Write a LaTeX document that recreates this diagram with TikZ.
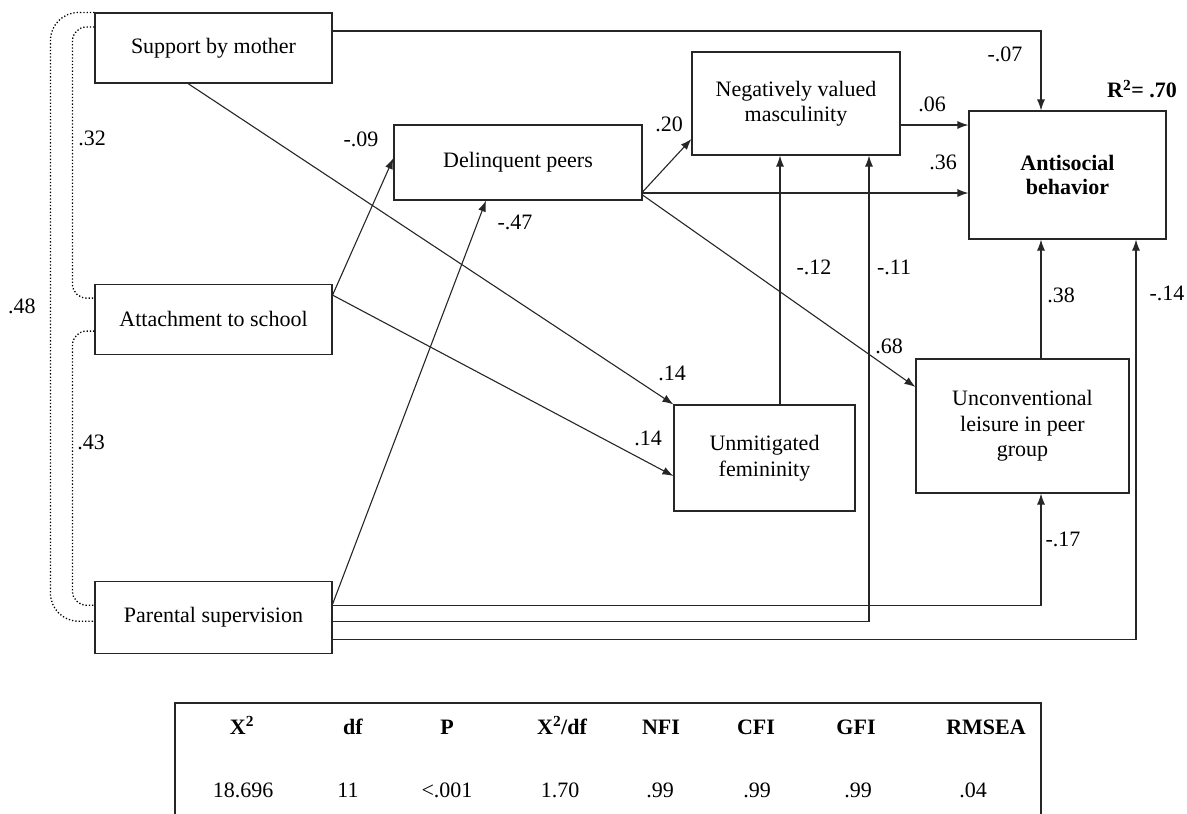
\documentclass[tikz,border=0pt]{standalone}
\usepackage{fontspec}
\setmainfont{Liberation Serif}
\usetikzlibrary{arrows.meta}
\usetikzlibrary{positioning}

\begin{document}
\begin{tikzpicture}[x=1pt,y=-1pt,>={Latex[length=11pt,width=8pt]},line width=1.1pt,
    font=\fontsize{22}{25.5}\selectfont,
    box/.style={draw=black!85,align=center,inner sep=0pt},
    path arrow/.style={->,draw=black!85},
    corr/.style={draw=black,line width=1.3pt,dash pattern=on 1.3pt off 2pt}]

    \useasboundingbox (0,0) rectangle (1187,814);

    % exogenous variables
    \node[box,minimum width=237pt,minimum height=70pt] (sup) at (213.5,48) {Support by mother};
    \node[box,minimum width=237pt,minimum height=70pt] (att) [below=200pt of sup] {Attachment to school};
    \node[box,minimum width=237pt,minimum height=72pt] (par) [below=226pt of att] {Parental supervision};

    % mediators and outcome
    \node[box,minimum width=248pt,minimum height=75pt] (del) at (518,162.5) {Delinquent peers};
    \node[box,minimum width=208pt,minimum height=103pt] (neg) at (796,103.5) {Negatively valued\\masculinity};
    \node[box,minimum width=181pt,minimum height=106pt] (unm) at (764.5,458) {Unmitigated\\femininity};
    \node[box,minimum width=213pt,minimum height=134pt] (unc) at (1022.5,426) {Unconventional\\leisure in peer\\group};
    \node[box,minimum width=197pt,minimum height=128pt,font=\fontsize{22}{24}\selectfont\bfseries] (anti) at (1067.5,175) {Antisocial\\behavior};
    \node[font=\fontsize{22}{24}\selectfont\bfseries] (rsq) at (1142,89) {R\textsuperscript{2}= .70};

    % correlations
    \draw[corr,rounded corners=14pt] ([yshift=21pt]sup.west) -| ([xshift=-22pt,yshift=21pt]att.west) -- ([yshift=21pt]att.west);
    \draw[corr,rounded corners=14pt] ([yshift=-12pt]att.west) -| ([xshift=-22pt,yshift=12pt]par.west) -- ([yshift=12pt]par.west);
    \draw[corr,rounded corners=28pt] (sup.north west) -| ([xshift=-44pt,yshift=-4pt]par.west) -- ([yshift=-4pt]par.west);
    \node (l32) at (92,138) {.32};
    \node (l43) at (91,442) {.43};
    \node (l48) at (22,306) {.48};

    % paths
    \draw[path arrow] ([yshift=17pt]sup.east) -| ([xshift=-26.5pt]anti.north);
    \draw[path arrow] ([xshift=-25.5pt]sup.south) -- (unm.north west);
    \draw[path arrow] ([yshift=24pt]att.east) -- ([yshift=4.5pt]del.west);
    \draw[path arrow] ([yshift=24pt]att.east) -- ([yshift=-18pt]unm.west);
    \draw[path arrow] ([yshift=13pt]par.east) -- ([xshift=-32pt]del.south);
    \draw[path arrow] ([yshift=-29.5pt]del.east) -- ([yshift=-35.5pt]neg.west);
    \draw[path arrow] ([yshift=-30.5pt]del.east) -- ([yshift=-30.5pt]del.east -| anti.west);
    \draw[path arrow] ([yshift=-32.5pt]del.east) -- ([yshift=39pt]unc.west);
    \draw[path arrow] ([yshift=-21.5pt]neg.east) -- ([yshift=-21.5pt]neg.east -| anti.west);
    \draw[path arrow] ([xshift=15.5pt]unm.north) -- ([xshift=15.5pt]unm.north |- neg.south);
    \draw[path arrow] ([xshift=18.5pt]unc.north) -- ([xshift=18.5pt]unc.north |- anti.south);
    \draw[path arrow] ([yshift=-4pt]par.east) -| ([xshift=73pt]neg.south);
    \draw[path arrow] ([yshift=12pt]par.east) -| ([xshift=18.5pt]unc.south);
    \draw[path arrow] ([yshift=-22pt]par.east) -| ([xshift=68.5pt]anti.south);

    % coefficients
    \node (l07) at (1005,54) {-.07};
    \node (l06) at (932,104) {.06};
    \node (l36) at (943,162) {.36};
    \node (l20) at (669,124) {.20};
    \node (l09) at (361,139) {-.09};
    \node (l47) at (515,222) {-.47};
    \node (l12) at (814,267) {-.12};
    \node (l11) at (894,267) {-.11};
    \node (l68) at (889,346) {.68};
    \node (l14a) at (672,373) {.14};
    \node (l14b) at (648,438) {.14};
    \node (l38) at (1061,295) {.38};
    \node (l14c) at (1167,293) {-.14};
    \node (l17) at (1063,539) {-.17};

    % fit indices
    \draw[draw=black!85] (175,814) -- (175,703) -- (1041,703) -- (1041,814);
    \foreach \n/\xh/\xv/\hd/\val in {1/242/243/X\textsuperscript{2}/18.696, 2/353/348/df/11, 3/447/447/P/<.001,
        4/562/560/{X\textsuperscript{2}/df}/1.70, 5/661/660/NFI/.99, 6/756/757/CFI/.99, 7/856/858/GFI/.99,
        8/986/973/RMSEA/.04}{
      \node[anchor=base,font=\fontsize{22}{24}\selectfont\bfseries] (h\n) at (\xh,734) {\hd};
      \node[anchor=base] (v\n) at (\xv,797) {\val};
    }
\end{tikzpicture}
\end{document}
